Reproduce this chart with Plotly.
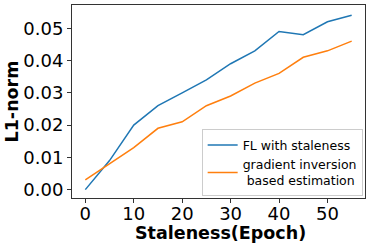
import plotly.graph_objects as go

staleness = [0, 5, 10, 15, 20, 25, 30, 35, 40, 45, 50, 55]
fl_staleness = [0.000, 0.009, 0.020, 0.026, 0.030, 0.034, 0.039, 0.043, 0.049, 0.048, 0.052, 0.054]
grad_inversion = [0.003, 0.008, 0.013, 0.019, 0.021, 0.026, 0.029, 0.033, 0.036, 0.041, 0.043, 0.046]
x_ticks = [0, 10, 20, 30, 40, 50]
y_ticks = [0.00, 0.01, 0.02, 0.03, 0.04, 0.05]
x_title = "Staleness(Epoch)"
y_title = "L1-norm"

fig = go.Figure()
fig.add_trace(go.Scatter(x=staleness, y=fl_staleness, mode="lines",
                         name="FL with staleness",
                         line=dict(color="#1f77b4", width=1.5)))
fig.add_trace(go.Scatter(x=staleness, y=grad_inversion, mode="lines",
                         name="gradient inversion<br>\u00a0based estimation",
                         line=dict(color="#ff7f0e", width=1.5)))

axis_common = dict(showgrid=False, zeroline=False, showline=True, mirror=True,
                   automargin=False,
                   linecolor="#333333", linewidth=1, ticks="outside", ticklen=4,
                   tickcolor="#333333", tickfont=dict(family="DejaVu Sans", size=18, color="black"))

fig.update_layout(
    width=375, height=249,
    margin=dict(l=72, r=10, t=5, b=51, autoexpand=False),
    plot_bgcolor="white", paper_bgcolor="white",
    xaxis=dict(range=[-2.75, 57.75], tickvals=x_ticks, ticklabelstandoff=-5,
               **axis_common),
    yaxis=dict(range=[-0.0026, 0.0572], tickvals=y_ticks, tickformat=".2f",
               title=dict(text="<b>" + y_title + "</b>", standoff=0,
                          font=dict(family="DejaVu Sans", size=17.5, color="black")),
               **axis_common),
    legend=dict(x=0.992, y=0.008, xanchor="right", yanchor="bottom",
                bgcolor="white", bordercolor="#cccccc", borderwidth=1,
                font=dict(family="DejaVu Sans", size=12.5, color="black"),
                itemwidth=30, tracegroupgap=0),
    showlegend=True,
    annotations=[dict(text="<b>" + x_title + "</b>", xref="paper", yref="paper",
                      x=0.507, y=0, xanchor="center", yanchor="top", yshift=-23,
                      showarrow=False,
                      font=dict(family="DejaVu Sans", size=17.5, color="black"))],
)

fig.write_html("out.html", config={"displayModeBar": False},
               post_script="document.body.style.margin='0px';")
